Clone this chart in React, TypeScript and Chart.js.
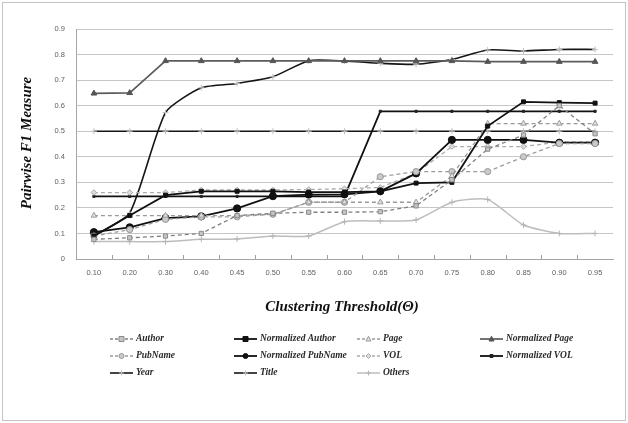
import React, { useEffect, useRef } from 'react';
import { Chart, registerables } from 'chart.js';

Chart.register(...registerables);

// Clustering thresholds on the x axis
const thresholds = ['0.10', '0.20', '0.30', '0.40', '0.45', '0.50', '0.55', '0.60', '0.65', '0.70', '0.75', '0.80', '0.85', '0.90', '0.95'];

// Pairwise F1 per field
const author = [0.077, 0.083, 0.09, 0.1, 0.17, 0.179, 0.183, 0.183, 0.185, 0.208, 0.31, 0.43, 0.485, 0.6, 0.49];
const normalizedAuthor = [0.09, 0.17, 0.25, 0.265, 0.265, 0.265, 0.262, 0.262, 0.265, 0.297, 0.3, 0.52, 0.615, 0.612, 0.61];
const page = [0.17, 0.17, 0.17, 0.17, 0.17, 0.175, 0.222, 0.222, 0.222, 0.222, 0.325, 0.53, 0.53, 0.53, 0.53];
const normalizedPage = [0.648, 0.65, 0.775, 0.775, 0.775, 0.775, 0.775, 0.775, 0.775, 0.775, 0.775, 0.772, 0.772, 0.772, 0.772];
const pubName = [0.09, 0.115, 0.155, 0.165, 0.165, 0.175, 0.222, 0.222, 0.322, 0.342, 0.342, 0.342, 0.4, 0.452, 0.452];
const normalizedPubName = [0.105, 0.124, 0.16, 0.167, 0.198, 0.246, 0.252, 0.253, 0.265, 0.335, 0.466, 0.466, 0.466, 0.455, 0.455];
const vol = [0.26, 0.26, 0.26, 0.27, 0.27, 0.27, 0.272, 0.275, 0.28, 0.335, 0.44, 0.44, 0.44, 0.458, 0.458];
const normalizedVol = [0.245, 0.245, 0.245, 0.245, 0.245, 0.245, 0.245, 0.245, 0.578, 0.578, 0.578, 0.578, 0.578, 0.578, 0.578];
const year = [0.09, 0.18, 0.573, 0.67, 0.687, 0.713, 0.776, 0.775, 0.766, 0.762, 0.781, 0.818, 0.814, 0.82, 0.82];
const title = [0.5, 0.5, 0.5, 0.5, 0.5, 0.5, 0.5, 0.5, 0.5, 0.5, 0.5, 0.5, 0.5, 0.5, 0.5];
const others = [0.068, 0.068, 0.068, 0.077, 0.078, 0.09, 0.09, 0.146, 0.149, 0.153, 0.222, 0.233, 0.133, 0.1, 0.1];

const yTicks = [0, 0.1, 0.2, 0.3, 0.4, 0.5, 0.6, 0.7, 0.8, 0.9];

type Style = {
  color: string;
  dash: number[];
  width: number;
  marker: string;
  radius: number;
  fill: string;
  stroke: string;
  tension: number;
};

const series: { label: string; data: number[]; style: Style }[] = [
  { label: 'Author', data: author, style: { color: '#808080', dash: [4, 3], width: 1.3, marker: 'rect', radius: 3, fill: '#c6c6c6', stroke: '#8a8a8a', tension: 0 } },
  { label: 'Normalized Author', data: normalizedAuthor, style: { color: '#111', dash: [], width: 1.8, marker: 'rect', radius: 2.8, fill: '#111', stroke: '#111', tension: 0 } },
  { label: 'Page', data: page, style: { color: '#9a9a9a', dash: [4, 3], width: 1.3, marker: 'triangle', radius: 3.2, fill: '#e2e2e2', stroke: '#9a9a9a', tension: 0 } },
  { label: 'Normalized Page', data: normalizedPage, style: { color: '#5c5c5c', dash: [], width: 1.7, marker: 'triangle', radius: 3.3, fill: '#555', stroke: '#555', tension: 0 } },
  { label: 'PubName', data: pubName, style: { color: '#9c9c9c', dash: [4, 3], width: 1.3, marker: 'circle', radius: 3.1, fill: '#cacaca', stroke: '#999', tension: 0 } },
  { label: 'Normalized PubName', data: normalizedPubName, style: { color: '#111', dash: [], width: 1.8, marker: 'circle', radius: 3.6, fill: '#111', stroke: '#111', tension: 0 } },
  { label: 'VOL', data: vol, style: { color: '#ababab', dash: [4, 3], width: 1.3, marker: 'rectRot', radius: 2.8, fill: '#dcdcdc', stroke: '#aaa', tension: 0 } },
  { label: 'Normalized VOL', data: normalizedVol, style: { color: '#111', dash: [], width: 1.8, marker: 'rect', radius: 1.5, fill: '#222', stroke: '#222', tension: 0 } },
  { label: 'Year', data: year, style: { color: '#151515', dash: [], width: 1.6, marker: 'cross', radius: 3, fill: '#c8c8c8', stroke: '#c0c0c0', tension: 0.2 } },
  { label: 'Title', data: title, style: { color: '#151515', dash: [], width: 1.6, marker: 'cross', radius: 3, fill: '#c8c8c8', stroke: '#c0c0c0', tension: 0 } },
  { label: 'Others', data: others, style: { color: '#bdbdbd', dash: [], width: 1.5, marker: 'cross', radius: 3, fill: '#bbb', stroke: '#b5b5b5', tension: 0.2 } },
];

function drawMarker(ctx: CanvasRenderingContext2D, s: Style, x: number, y: number, r: number) {
  ctx.save();
  ctx.setLineDash([]);
  ctx.fillStyle = s.fill;
  ctx.strokeStyle = s.stroke;
  ctx.lineWidth = 1;
  ctx.beginPath();
  if (s.marker === 'rect') {
    ctx.rect(x - r, y - r, 2 * r, 2 * r);
    ctx.fill();
    ctx.stroke();
  } else if (s.marker === 'circle') {
    ctx.arc(x, y, r, 0, Math.PI * 2);
    ctx.fill();
    ctx.stroke();
  } else if (s.marker === 'triangle') {
    ctx.moveTo(x, y - r * 1.1);
    ctx.lineTo(x + r, y + r * 0.8);
    ctx.lineTo(x - r, y + r * 0.8);
    ctx.closePath();
    ctx.fill();
    ctx.stroke();
  } else if (s.marker === 'rectRot') {
    ctx.moveTo(x, y - r);
    ctx.lineTo(x + r, y);
    ctx.lineTo(x, y + r);
    ctx.lineTo(x - r, y);
    ctx.closePath();
    ctx.fill();
    ctx.stroke();
  } else {
    ctx.moveTo(x - r, y);
    ctx.lineTo(x + r, y);
    ctx.moveTo(x, y - r);
    ctx.lineTo(x, y + r);
    ctx.stroke();
  }
  ctx.restore();
}

// Frame, axis titles, inner tick marks and the four-column legend
const decorations = {
  id: 'decorations',
  beforeDraw(chart: Chart) {
    const ctx = chart.ctx;
    ctx.save();
    ctx.fillStyle = '#ffffff';
    ctx.fillRect(0, 0, chart.width, chart.height);
    ctx.strokeStyle = '#c4c4c4';
    ctx.lineWidth = 1;
    ctx.strokeRect(2.5, 2.5, chart.width - 5, chart.height - 5);
    ctx.restore();
  },
  afterDraw(chart: Chart) {
    const ctx = chart.ctx;
    const area = chart.chartArea;
    ctx.save();

    // category boundary ticks on the x axis
    const step = (area.right - area.left) / thresholds.length;
    ctx.strokeStyle = '#a0a0a0';
    ctx.lineWidth = 1;
    ctx.beginPath();
    for (let i = 1; i < thresholds.length; i++) {
      const x = Math.round(area.left + i * step) + 0.5;
      ctx.moveTo(x, area.bottom - 4);
      ctx.lineTo(x, area.bottom);
    }
    ctx.stroke();

    // axis titles
    ctx.fillStyle = '#111';
    ctx.font = 'italic bold 15px "Liberation Serif"';
    ctx.textAlign = 'center';
    ctx.textBaseline = 'middle';
    ctx.fillText('Clustering Threshold(\u0398)', 342, 307);
    ctx.save();
    ctx.translate(27, 143);
    ctx.rotate(-Math.PI / 2);
    ctx.fillText('Pairwise F1 Measure', 0, 0);
    ctx.restore();

    // legend
    const cols = [110, 234, 357, 480];
    const rows = [339, 356, 373];
    const sampleLen = 23;
    ctx.font = 'italic bold 9.5px "Liberation Serif"';
    ctx.textAlign = 'left';
    series.forEach((s, i) => {
      const x = cols[i % 4];
      const y = rows[Math.floor(i / 4)];
      ctx.save();
      ctx.strokeStyle = s.style.color;
      ctx.lineWidth = s.style.width;
      ctx.setLineDash(s.style.dash.length ? [3, 2] : []);
      ctx.beginPath();
      ctx.moveTo(x, y);
      ctx.lineTo(x + sampleLen, y);
      ctx.stroke();
      ctx.restore();
      drawMarker(ctx, s.style, x + sampleLen / 2, y, Math.min(s.style.radius, 2.5));
      ctx.fillStyle = '#2a2a2a';
      ctx.fillText(s.label, x + sampleLen + 3, y);
    });
    ctx.restore();
  },
};

export default function App() {
  const canvasRef = useRef<HTMLCanvasElement | null>(null);

  useEffect(() => {
    const canvas = canvasRef.current;
    if (!canvas) return;
    const chart = new Chart(canvas, {
      type: 'line',
      data: {
        labels: thresholds,
        datasets: series.map((s) => ({
          label: s.label,
          data: s.data,
          borderColor: s.style.color,
          borderWidth: s.style.width,
          borderDash: s.style.dash,
          tension: s.style.tension,
          pointStyle: s.style.marker,
          pointRadius: s.style.radius,
          pointBackgroundColor: s.style.fill,
          pointBorderColor: s.style.stroke,
          pointBorderWidth: 1,
          fill: false,
        })),
      },
      options: {
        responsive: false,
        animation: false,
        devicePixelRatio: 1,
        layout: { padding: { left: 0, right: 15, top: 29, bottom: 0 } },
        plugins: {
          legend: { display: false },
          tooltip: { enabled: false },
        },
        scales: {
          x: {
            offset: true,
            grid: { display: false, drawTicks: false },
            border: { display: true, color: '#a6a6a6', width: 1 },
            ticks: {
              autoSkip: false,
              maxRotation: 0,
              padding: 9,
              color: '#606060',
              font: { family: '"Liberation Sans", Arial', size: 7.5 },
            },
            afterFit: (scale: any) => {
              scale.height = 423 - 259;
            },
          },
          y: {
            min: 0,
            max: 0.9,
            afterBuildTicks: (scale: any) => {
              scale.ticks = yTicks.map((v) => ({ value: v }));
            },
            grid: { color: '#c6c6c6', lineWidth: 1, drawTicks: false },
            border: { display: true, color: '#a6a6a6', width: 1 },
            ticks: {
              padding: 11,
              color: '#606060',
              font: { family: '"Liberation Sans", Arial', size: 7.5 },
              callback: (v: any) => (Number(v) === 0 ? '0' : Number(v).toFixed(1)),
            },
            afterFit: (scale: any) => {
              scale.width = 76;
            },
          },
        },
      },
      plugins: [decorations],
    });
    return () => chart.destroy();
  }, []);

  return (
    <div style={{ position: 'absolute', left: 0, top: 0, width: 628, height: 423 }}>
      <canvas ref={canvasRef} width={628} height={423} style={{ display: 'block', width: 628, height: 423 }} />
    </div>
  );
}
